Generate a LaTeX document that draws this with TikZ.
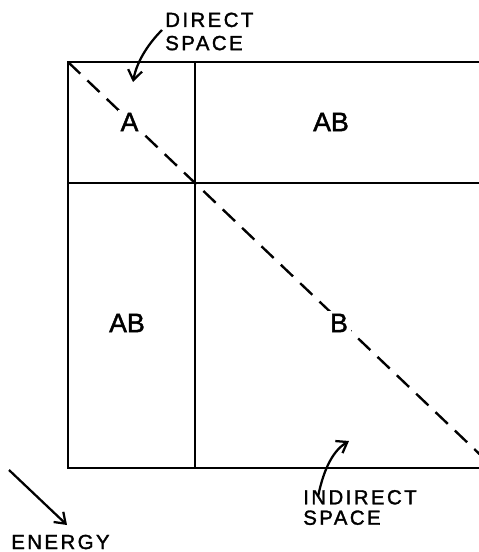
\documentclass[tikz,border=0pt]{standalone}
\usepackage{fontspec}
\setmainfont{Liberation Sans}[FakeBold=1.6]
\newfontfamily\lettering[LetterSpace=12,FakeBold=1.6]{Liberation Sans}
\usetikzlibrary{arrows.meta,positioning,calc}
\tikzset{
  frame/.style={line width=1.7pt, draw=black},
  diag/.style={line width=1.7pt, draw=black, dash pattern=on 12pt off 7pt},
  region/.style={
    font=\fontsize{19}{21}\selectfont,
    inner sep=2pt
  },
  note/.style={
    align=left,
    inner sep=0pt,
    font=\lettering\fontsize{14.5}{16.5}\selectfont
  },
  pointer/.style={-{Straight Barb[length=7pt,width=10pt]}, line width=1.6pt, draw=black}
}
\begin{document}
\begin{tikzpicture}[x=0.025cm, y=-0.025cm]
    \useasboundingbox (0,0) rectangle (479,552);
    \clip (0,0) rectangle (479,552);
    % corners of the box
    \coordinate (tl) at (68,62);
    \coordinate (bl) at (68,468);
    \coordinate (cross) at (195,183);
    \draw[frame] (479,62) -- (tl) -- (bl) -- (479,468);
    \draw[frame] (cross |- tl) -- (cross |- bl);
    \draw[frame] (tl |- cross) -- (479,183);
    \draw[diag] (tl) -- ($(tl)!3.24!(cross)$);
    % regions
    \node[region, fill=white] (a) at (129.5,122) {A};
    \node[region] (ab1) at (331,122) {AB};
    \node[region] (ab2) at (127,323) {AB};
    \node[region, fill=white] (b) at (339,323) {B};
    % labels
    \node[note, anchor=west] (direct) at (165,31.5) {DIRECT\\SPACE};
    \node[note, anchor=west] (indirect) at (303,507.5) {INDIRECT\\[-2pt]SPACE};
    \node[note, anchor=west] (energy) at (11,542) {ENERGY};
    \coordinate (dtip) at (133,82);
    \coordinate (itip) at (349,441);
    \coordinate (etail) at (9,470);
    \coordinate (etip) at (67,525);
    \draw[pointer] ($(direct.west)+(-3,-1.5)$) .. controls (150,42) and (137,60) .. (dtip);
    \draw[pointer] ($(indirect.north west)+(15,7)$) .. controls (324,467) and (334,450) .. (itip);
    \draw[pointer] (etail) -- (etip);
  \end{tikzpicture}
\end{document}
